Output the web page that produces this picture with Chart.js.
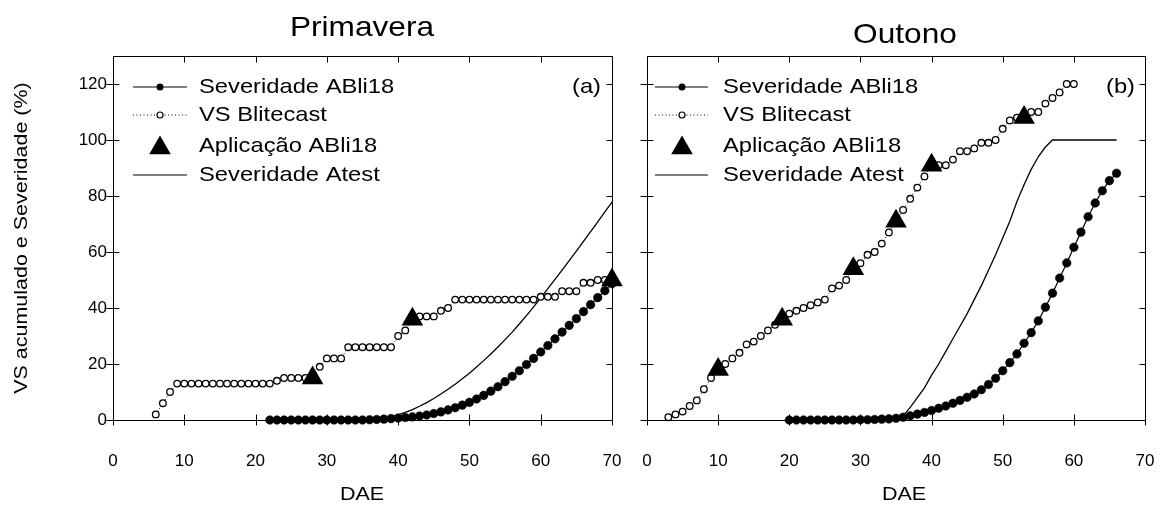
<!DOCTYPE html>
<html>
<head>
<meta charset="utf-8">
<script src="https://cdn.jsdelivr.net/npm/chart.js@4.4.1/dist/chart.umd.min.js"></script>
<style>
html,body{margin:0;padding:0;background:#fff;}
#wrap{position:relative;width:1161px;height:506px;overflow:hidden;background:#fff;}
#c1{position:absolute;left:0;top:0;}
#c2{position:absolute;left:630px;top:0;}
</style>
</head>
<body>
<div id="wrap">
<canvas id="c1" width="630" height="506"></canvas>
<canvas id="c2" width="531" height="506"></canvas>
</div>
<script>
// ---------------- data ----------------
const xTickLabels = [0, 10, 20, 30, 40, 50, 60, 70];
const yTickLabels = [0, 20, 40, 60, 80, 100, 120];
const seriesNames = ['Severidade ABli18', 'VS Blitecast', 'Aplicação ABli18', 'Severidade Atest'];
const panelTitles = ['Primavera', 'Outono'];
const panelTags = ['(a)', '(b)'];
const xAxisTitle = 'DAE';
const yAxisTitle = 'VS acumulado e Severidade (%)';

// Primavera (a)
const primSevDAE = [22,23,24,25,26,27,28,29,30,31,32,33,34,35,36,37,38,39,40,41,42,43,44,45,46,47,48,49,50,51,52,53,54,55,56,57,58,59,60,61,62,63,64,65,66,67,68,69,70];
const primSev = [0,0,0,0,0,0,0,0,0,0,0,0,0,0,0.1,0.2,0.3,0.5,0.7,0.9,1.1,1.4,1.8,2.3,2.9,3.6,4.4,5.3,6.3,7.5,8.8,10.3,11.9,13.7,15.6,17.6,19.8,22.0,24.3,26.6,29.0,31.4,33.8,36.2,38.7,41.2,43.7,46.2,48.7];
const primVsDAE = [6,7,8,9,10,11,12,13,14,15,16,17,18,19,20,21,22,23,24,25,26,27,28,29,30,31,32,33,34,35,36,37,38,39,40,41,42,43,44,45,46,47,48,49,50,51,52,53,54,55,56,57,58,59,60,61,62,63,64,65,66,67,68,69,70,71];
const primVs = [2,6,10,13,13,13,13,13,13,13,13,13,13,13,13,13,13,14,15,15,15,15,15,19,22,22,22,26,26,26,26,26,26,26,30,32,36,37,37,37,39,40,43,43,43,43,43,43,43,43,43,43,43,43,44,44,44,46,46,46,49,49,50,50,50,50];
const primAppDAE = [28, 42, 70];
const primApp = [15, 36, 50];
const primAtestDAE = [37,38,39,40,41,42,43,44,45,46,47,48,49,50,51,52,53,54,55,56,57,58,59,60,61,62,63,64,65,66,67,68,69,70];
const primAtest = [0,0.4,1.0,1.8,2.7,3.7,4.9,6.2,7.7,9.3,11.0,12.8,14.7,16.7,18.9,21.2,23.6,26.1,28.7,31.4,34.3,37.3,40.4,43.6,46.9,50.2,53.5,56.9,60.3,63.8,67.3,70.8,74.3,77.8];

// Outono (b)
const outSevDAE = [20,21,22,23,24,25,26,27,28,29,30,31,32,33,34,35,36,37,38,39,40,41,42,43,44,45,46,47,48,49,50,51,52,53,54,55,56,57,58,59,60,61,62,63,64,65,66];
const outSev = [0,0,0,0,0,0,0,0,0,0,0.1,0.1,0.2,0.3,0.4,0.6,1.0,1.5,2.1,2.7,3.4,4.2,5.0,6.0,7.0,8.1,9.3,10.8,12.7,14.9,17.6,20.5,23.6,27.4,31.2,35.4,40.3,45.3,50.7,56.1,61.7,67.1,72.6,77.5,81.9,85.5,88.1];
const outVsDAE = [3,4,5,6,7,8,9,10,11,12,13,14,15,16,17,18,19,20,21,22,23,24,25,26,27,28,29,30,31,32,33,34,35,36,37,38,39,40,41,42,43,44,45,46,47,48,49,50,51,52,53,54,55,56,57,58,59,60];
const outVs = [1,2,3,5,7,11,15,18,20,22,24,27,28,30,32,34,36,38,39,40,41,42,43,47,48,50,54,56,59,60,63,67,71,75,79,83,87,91,91,91,93,96,96,97,99,99,100,104,107,108,108,110,110,113,115,117,120,120];
const outAppDAE = [10, 19, 29, 35, 40, 53];
const outApp = [18, 36, 54, 71, 91, 108];
const outAtestDAE = [35,36,37,38,39,40,41,42,43,44,45,46,47,48,49,50,51,52,53,54,55,56,57,58,59,60,61,62,63,64,65,66];
const outAtest = [0,1.5,4.5,8,11.5,16,20,24.5,29,33.5,38,43,48,53.5,59,65,71,78,84,89.5,94,97.5,100,100,100,100,100,100,100,100,100,100];

// ---------------- rendering ----------------
const FONT = '"Liberation Sans", Arial, Helvetica, sans-serif';
const STRETCH = 1.13;
const pts = (xs, ys) => xs.map((x, i) => ({x: x, y: ys[i]}));

// let points sitting just past the frame (e.g. DAE 71) still be drawn
const PointEl = Chart.registry.getElement('point');
const origPointDraw = PointEl.prototype.draw;
PointEl.prototype.draw = function (ctx, area) {
  const a = area ? {left: area.left - 15, right: area.right + 15, top: area.top - 15, bottom: area.bottom + 15} : area;
  return origPointDraw.call(this, ctx, a);
};

function txt(ctx, s, x, y, size, align, rot, sx) {
  ctx.save();
  ctx.translate(x, y);
  if (rot) ctx.rotate(rot);
  ctx.scale(sx || STRETCH, 1);
  ctx.font = size + 'px ' + FONT;
  ctx.fillStyle = '#000';
  ctx.textAlign = align;
  ctx.textBaseline = 'middle';
  ctx.fillText(s, 0, 0);
  ctx.restore();
}

function triangle(ctx, x, y, r) {
  ctx.beginPath();
  let rad = 0;
  ctx.moveTo(x + Math.sin(rad) * r, y - Math.cos(rad) * r);
  rad += Math.PI * 2 / 3;
  ctx.lineTo(x + Math.sin(rad) * r, y - Math.cos(rad) * r);
  rad += Math.PI * 2 / 3;
  ctx.lineTo(x + Math.sin(rad) * r, y - Math.cos(rad) * r);
  ctx.closePath();
  ctx.fill();
}

// axes frame, ticks, tick labels, titles and legend, all positioned through the chart scales
const decor = {
  id: 'decor',
  beforeDatasetsDraw(chart, args, o) {
    const ctx = chart.ctx, a = chart.chartArea, xs = chart.scales.x, ys = chart.scales.y;
    const al = v => Math.round(v) + 0.5;
    const L = al(a.left), R = al(a.right), T = al(a.top), B = al(a.bottom);
    ctx.save();
    ctx.strokeStyle = '#000';
    ctx.lineWidth = 1;
    ctx.beginPath();
    ctx.rect(L, T, R - L, B - T);
    xTickLabels.forEach(v => {
      const px = al(xs.getPixelForValue(v));
      ctx.moveTo(px, B + 5); ctx.lineTo(px, B - 6);
      ctx.moveTo(px, T); ctx.lineTo(px, T + 6);
    });
    yTickLabels.forEach(v => {
      const py = al(ys.getPixelForValue(v));
      ctx.moveTo(L - 7, py); ctx.lineTo(L + 6, py);
      ctx.moveTo(R, py); ctx.lineTo(R - 6, py);
    });
    ctx.stroke();
    // tick labels
    xTickLabels.forEach(v => {
      txt(ctx, String(v), xs.getPixelForValue(v), o.xLabelY, 17, 'center', 0, 1);
    });
    if (o.yLabels) {
      yTickLabels.forEach(v => {
        txt(ctx, String(v), o.yLabelRight, ys.getPixelForValue(v), 17, 'right', 0, 1);
      });
    }
    ctx.restore();
  },
  afterDraw(chart, args, o) {
    const ctx = chart.ctx;
    ctx.save();
    txt(ctx, o.title, o.titleX, o.titleY, 28, 'center');
    txt(ctx, o.tag, o.tagX, o.tagY, 21, 'right');
    txt(ctx, xAxisTitle, o.xTitleX, o.xTitleY, 19, 'center');
    if (o.yTitle) txt(ctx, yAxisTitle, o.yTitleX, o.yTitleY, 19, 'center', -Math.PI / 2);
    // legend
    const L = o.legend;
    const names = chart.data.datasets.map(d => d.label);
    ctx.strokeStyle = '#000'; ctx.fillStyle = '#000';
    let y = L.rows[0];
    ctx.lineWidth = 1.2; ctx.setLineDash([]);
    ctx.beginPath(); ctx.moveTo(L.x0, y); ctx.lineTo(L.x1, y); ctx.stroke();
    ctx.beginPath(); ctx.arc(L.mx, y, 3.5, 0, Math.PI * 2); ctx.fill();
    txt(ctx, names[0], L.tx, y, 21, 'left');
    y = L.rows[1];
    ctx.lineWidth = 1; ctx.setLineDash([1, 2.5]);
    ctx.beginPath(); ctx.moveTo(L.x0, y); ctx.lineTo(L.x1, y); ctx.stroke();
    ctx.setLineDash([]);
    ctx.fillStyle = '#fff'; ctx.lineWidth = 1.2;
    ctx.beginPath(); ctx.arc(L.mx, y, 3, 0, Math.PI * 2); ctx.fill(); ctx.stroke();
    ctx.fillStyle = '#000';
    txt(ctx, names[1], L.tx, y, 21, 'left');
    y = L.rows[2];
    triangle(ctx, L.mx, y + 2, 12.5);
    txt(ctx, names[2], L.tx, y, 21, 'left');
    y = L.rows[3];
    ctx.lineWidth = 1.2;
    ctx.beginPath(); ctx.moveTo(L.x0, y); ctx.lineTo(L.x1, y); ctx.stroke();
    txt(ctx, names[3], L.tx, y, 21, 'left');
    ctx.restore();
  }
};

function makePanel(id, P) {
  const datasets = [
    {label: seriesNames[0], data: pts(P.sevX, P.sev), order: 1, showLine: true,
     borderColor: '#000', borderWidth: 1.2, pointRadius: 4.3, pointBackgroundColor: '#000',
     pointBorderColor: '#000', pointBorderWidth: 0.5, clip: false},
    {label: seriesNames[1], data: pts(P.vsX, P.vs), order: 2, showLine: true,
     borderColor: '#000', borderWidth: 1, borderDash: [1, 2.4], pointRadius: 3.3,
     pointBackgroundColor: '#fff', pointBorderColor: '#000', pointBorderWidth: 1.3, clip: false},
    {label: seriesNames[2], data: pts(P.appX, P.app), order: 0, showLine: false,
     pointStyle: 'triangle', pointRadius: 12.5, pointBackgroundColor: '#000',
     pointBorderColor: '#000', pointBorderWidth: 0, clip: false},
    {label: seriesNames[3], data: pts(P.atX, P.at), order: 3, showLine: true,
     borderColor: '#000', borderWidth: 1.3, pointRadius: 0, clip: false}
  ];
  const pad = {left: P.area.left, right: P.w - P.area.right, top: P.area.top, bottom: P.h - P.area.bottom};
  const ch = new Chart(document.getElementById(id), {
    type: 'line',
    data: {datasets: datasets},
    plugins: [decor],
    options: {
      responsive: false, animation: false, events: [],
      layout: {autoPadding: false, padding: pad},
      elements: {line: {tension: 0}},
      plugins: {legend: {display: false}, tooltip: {enabled: false}, decor: P.decor},
      scales: {
        x: {type: 'linear', display: false, min: 0, max: 70,
            ticks: {display: false}, grid: {display: false}, border: {display: false}},
        y: {type: 'linear', display: false, min: 0, max: 130,
            ticks: {display: false}, grid: {display: false}, border: {display: false}}
      }
    }
  });
  // make sure the plot area lands exactly where the reference frame is
  const ca = ch.chartArea;
  const dl = P.area.left - ca.left, dr = ca.right - P.area.right, dt = P.area.top - ca.top, db = ca.bottom - P.area.bottom;
  if (Math.abs(dl) + Math.abs(dr) + Math.abs(dt) + Math.abs(db) > 0.5) {
    ch.options.layout.padding = {left: pad.left + dl, right: pad.right + dr, top: pad.top + dt, bottom: pad.bottom + db};
    ch.update('none');
  }
  return ch;
}

makePanel('c1', {
  sevX: primSevDAE, sev: primSev, vsX: primVsDAE, vs: primVs,
  appX: primAppDAE, app: primApp, atX: primAtestDAE, at: primAtest,
  w: 630, h: 506, area: {left: 113, right: 612, top: 56, bottom: 420},
  decor: {
    title: panelTitles[0], titleX: 362, titleY: 28,
    tag: panelTags[0], tagX: 601, tagY: 87,
    xTitleX: 362, xTitleY: 495, xLabelY: 461,
    yLabels: true, yLabelRight: 107,
    yTitle: true, yTitleX: 22, yTitleY: 238,
    legend: {rows: [87, 115, 146, 175], x0: 133, x1: 187, mx: 160, tx: 199}
  }
});

makePanel('c2', {
  sevX: outSevDAE, sev: outSev, vsX: outVsDAE, vs: outVs,
  appX: outAppDAE, app: outApp, atX: outAtestDAE, at: outAtest,
  w: 531, h: 506, area: {left: 17, right: 515, top: 56, bottom: 420},
  decor: {
    title: panelTitles[1], titleX: 275, titleY: 35,
    tag: panelTags[1], tagX: 505, tagY: 87,
    xTitleX: 274, xTitleY: 495, xLabelY: 461,
    yLabels: false,
    yTitle: false,
    legend: {rows: [87, 115, 146, 175], x0: 25, x1: 78, mx: 52, tx: 93}
  }
});
</script>
</body>
</html>
